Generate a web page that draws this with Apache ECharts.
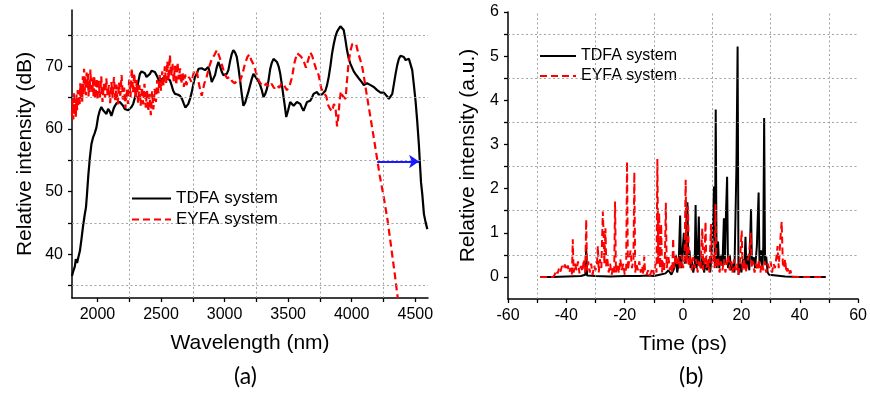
<!DOCTYPE html>
<html>
<head>
<meta charset="utf-8">
<script src="https://cdn.jsdelivr.net/npm/echarts@6/dist/echarts.min.js"></script>
<style>html,body{margin:0;padding:0;background:#fff;}#c{width:870px;height:396px;}</style>
</head>
<body>
<div id="c"></div>
<script>
const wlLabels = [2000, 2500, 3000, 3500, 4000, 4500];
const wlTicks = [2000, 2250, 2500, 2750, 3000, 3250, 3500, 3750, 4000, 4250, 4500];
const wlGrid = [2250, 2750, 3250, 3750, 4250];
const dbLabels = [40, 50, 60, 70];
const dbTicks = [35, 40, 45, 50, 55, 60, 65, 70, 75];
const dbGrid = [35, 45, 55, 65, 75];

const tdfaSpectrum = [
[1800,36.5],[1810,37.3],[1822,38.0],[1830,39.2],[1840,38.6],[1850,39.5],[1862,40.5],[1875,42.5],[1887,44.5],[1900,46.3],
[1910,47.5],[1918,49.6],[1928,52.5],[1940,55.3],[1953,57.6],[1965,58.6],[1978,59.3],[1992,60.2],[2005,61.9],[2018,62.9],
[2031,63.5],[2045,63.0],[2058,62.9],[2071,62.4],[2084,63.2],[2097,62.8],[2110,62.1],[2130,63.4],[2150,64.1],[2163,63.8],
[2176,64.3],[2190,64.0],[2202,63.7],[2215,63.2],[2229,63.5],[2242,63.0],[2255,62.9],[2268,63.5],[2281,64.0],[2295,65.0],
[2308,66.1],[2321,67.5],[2334,68.8],[2347,69.2],[2360,69.4],[2373,68.9],[2386,68.3],[2400,68.5],[2413,68.8],[2426,69.3],
[2439,69.6],[2452,69.1],[2465,68.6],[2478,68.0],[2491,67.5],[2505,67.9],[2518,68.2],[2531,68.3],[2550,68.0],[2570,67.8],
[2583,67.0],[2596,66.1],[2610,65.6],[2630,65.5],[2649,65.3],[2665,64.8],[2680,64.0],[2692,63.4],[2702,63.2],[2715,64.0],
[2728,64.8],[2741,65.8],[2755,67.2],[2767,68.3],[2781,68.8],[2795,69.6],[2807,69.9],[2820,69.7],[2833,69.5],[2846,69.4],
[2859,69.6],[2872,69.9],[2885,68.9],[2899,67.5],[2912,67.8],[2925,68.6],[2938,69.8],[2951,70.7],[2965,70.0],[2978,69.1],
[2991,68.6],[3004,68.3],[3017,68.8],[3030,69.4],[3043,70.8],[3057,72.0],[3069,72.6],[3083,72.2],[3096,71.5],[3109,69.8],
[3122,67.8],[3135,65.6],[3148,63.7],[3162,64.2],[3175,65.1],[3188,66.0],[3201,67.0],[3214,68.0],[3227,68.8],[3240,68.6],
[3254,68.0],[3267,67.6],[3280,67.0],[3293,66.2],[3306,65.1],[3320,65.6],[3333,66.4],[3346,67.8],[3359,69.6],[3372,70.6],
[3385,71.2],[3398,71.1],[3412,70.7],[3425,70.0],[3438,68.8],[3451,67.0],[3464,65.1],[3475,63.5],[3485,61.9],[3500,63.0],
[3516,64.3],[3530,64.0],[3543,63.7],[3556,64.0],[3569,64.3],[3582,64.2],[3595,64.0],[3608,63.4],[3621,62.9],[3635,63.6],
[3648,64.3],[3661,64.2],[3674,64.5],[3687,65.0],[3700,65.6],[3714,65.7],[3727,65.9],[3740,65.5],[3753,65.2],[3766,65.5],
[3780,65.8],[3793,66.1],[3806,67.0],[3819,68.3],[3832,70.0],[3845,72.0],[3858,73.5],[3871,74.7],[3884,75.5],[3898,76.0],
[3911,76.4],[3924,76.6],[3937,75.8],[3950,74.3],[3963,72.6],[3976,71.3],[3990,70.4],[4003,69.8],[4016,69.2],[4029,68.8],
[4042,68.5],[4055,68.1],[4069,67.8],[4082,67.4],[4095,67.0],[4108,67.1],[4121,67.3],[4134,67.2],[4148,67.0],[4161,67.0],
[4174,66.7],[4187,66.4],[4200,66.2],[4213,66.1],[4227,65.8],[4240,65.6],[4253,65.8],[4266,65.6],[4279,65.2],[4292,64.8],
[4305,65.0],[4319,65.6],[4332,67.2],[4345,68.8],[4358,70.2],[4371,71.2],[4384,71.7],[4397,71.9],[4410,71.5],[4424,71.0],
[4437,71.0],[4450,71.2],[4463,71.0],[4476,69.4],[4489,67.0],[4502,64.5],[4515,61.3],[4528,57.6],[4535,55.0],[4545,51.5],
[4555,49.6],[4568,46.4],[4582,45.0],[4595,44.0]
];

const eyfaSpectrum = [
[1800,62.0],[1805,64.6],[1810,61.5],[1815,65.8],[1820,62.3],[1825,64.0],[1830,61.8],[1835,65.5],[1840,63.0],[1845,66.2],
[1850,63.6],[1855,65.1],[1860,64.0],[1865,67.3],[1870,64.8],[1875,66.6],[1880,64.2],[1885,68.4],[1890,65.5],[1895,69.6],
[1900,66.0],[1905,68.3],[1910,65.4],[1915,69.0],[1920,66.5],[1925,68.8],[1930,65.2],[1935,67.6],[1940,65.9],[1945,69.5],
[1950,66.4],[1955,68.2],[1960,65.6],[1965,67.9],[1970,65.0],[1975,68.5],[1980,64.8],[1985,67.4],[1990,65.6],[1995,68.1],
[2000,64.6],[2010,67.7],[2020,65.0],[2030,68.4],[2040,64.3],[2050,67.2],[2060,65.0],[2070,68.1],[2080,65.4],[2090,67.0],
[2100,64.1],[2110,67.5],[2120,64.9],[2130,68.3],[2140,64.5],[2150,67.1],[2160,63.9],[2170,67.4],[2180,65.3],[2190,68.6],
[2200,64.7],[2210,66.6],[2220,63.3],[2230,66.3],[2240,64.0],[2250,67.9],[2260,65.1],[2270,69.7],[2280,65.8],[2290,68.9],
[2300,65.0],[2310,67.8],[2320,64.2],[2330,67.0],[2340,63.7],[2350,66.7],[2360,63.9],[2370,67.2],[2380,63.4],[2390,66.1],
[2400,62.8],[2410,65.6],[2420,62.2],[2430,66.0],[2440,63.1],[2450,66.4],[2460,64.3],[2470,67.8],[2480,65.7],[2490,68.6],
[2500,66.1],[2510,69.2],[2520,66.9],[2530,70.0],[2540,67.3],[2550,70.8],[2560,67.8],[2570,71.8],[2580,68.4],[2590,70.4],
[2600,67.6],[2610,70.1],[2620,67.0],[2630,70.6],[2640,67.9],[2650,69.7],[2660,67.2],[2670,69.0],[2680,66.7],[2690,68.7],
[2700,67.0],[2720,68.3],[2740,67.5],[2760,69.2],[2780,69.4],[2800,67.0],[2820,65.3],[2840,67.2],[2860,68.4],[2880,70.0],
[2900,71.2],[2920,71.8],[2940,72.6],[2960,71.5],[2980,70.2],[3000,68.8],[3020,68.1],[3040,68.3],[3060,67.6],[3080,67.3],
[3100,67.8],[3120,67.6],[3140,68.7],[3160,70.4],[3180,71.5],[3195,71.9],[3210,71.0],[3230,70.2],[3250,68.9],[3270,67.7],
[3290,67.1],[3310,66.8],[3330,67.3],[3350,66.7],[3370,67.2],[3390,66.5],[3410,67.0],[3430,66.6],[3450,67.3],[3470,66.9],
[3490,66.2],[3510,66.8],[3530,68.2],[3550,70.6],[3570,72.1],[3585,72.4],[3600,71.6],[3620,71.0],[3640,69.8],[3660,71.2],
[3675,72.2],[3690,71.6],[3705,70.5],[3720,69.6],[3740,68.6],[3760,66.5],[3780,65.8],[3800,65.2],[3815,63.8],[3830,63.2],
[3845,62.8],[3860,64.0],[3872,63.5],[3885,60.4],[3895,62.0],[3905,64.5],[3915,66.0],[3928,65.3],[3940,65.6],[3952,64.8],
[3962,67.5],[3975,70.5],[3990,72.5],[4005,73.6],[4020,73.3],[4035,73.5],[4050,72.2],[4065,71.2],[4080,70.2],[4095,68.5],
[4110,66.5],[4130,64.0],[4160,60.3],[4190,56.5],[4220,52.6],[4250,49.3],[4280,45.7],[4310,41.2],[4340,36.6],[4362,33.0]
];

const arrowStart = [4200, 54.8];
const arrowEnd = [4530, 54.8];

const timeLabels = [-60, -40, -20, 0, 20, 40, 60];
const timeTicks = [-60, -50, -40, -30, -20, -10, 0, 10, 20, 30, 40, 50, 60];
const timeGrid = [-50, -30, -10, 10, 30, 50];
const auLabels = [0, 1, 2, 3, 4, 5, 6];
const auTicks = [0, 0.5, 1, 1.5, 2, 2.5, 3, 3.5, 4, 4.5, 5, 5.5, 6];
const auGrid = [0.5, 1.5, 2.5, 3.5, 4.5, 5.5];

const tdfaPulse = [
[-49,0],[-45,0],[-40,0.01],[-35,0.02],[-33.5,0.05],[-33.2,0.66],[-32.9,0.03],[-30,0.02],[-25,0.01],[-20,0.02],
[-15,0.02],[-12,0.03],[-10,0.02],[-8,0.05],[-6,0.08],[-5,0.15],[-4,0.05],[-3,0.2],[-2.5,0.5],[-2,0.1],
[-1.5,0.3],[-1.0,1.39],[-0.7,0.2],[-0.3,0.5],[0.3,1.0],[0.6,0.3],[1,0.8],[1.5,1.69],[1.8,0.4],[2.2,0.6],
[2.6,0.2],[3,0.35],[3.5,0.1],[4,0.3],[4.3,1.63],[4.6,0.2],[5.0,0.4],[5.4,1.37],[5.7,0.3],[6.2,0.2],
[6.7,0.5],[7.2,0.1],[7.7,0.3],[8.3,0.15],[8.8,0.4],[9.3,0.1],[9.8,0.5],[10.3,1.25],[10.6,2.05],[10.9,0.3],
[11.2,3.79],[11.5,0.2],[12.0,0.8],[12.4,0.2],[13,0.5],[13.5,0.25],[14,1.33],[14.3,0.3],[14.7,1.4],[15.1,2.27],
[15.4,0.2],[16,0.5],[16.5,0.15],[17,0.3],[17.6,0.1],[18.3,2.5],[18.7,5.22],[19.0,0.05],[19.5,0.3],[20,0.1],
[20.5,0.4],[21,0.2],[21.4,0.91],[21.7,0.2],[22.2,0.5],[22.7,0.15],[23.3,1.53],[23.6,0.3],[24.2,0.45],[24.7,0.2],
[25.3,0.7],[25.9,1.91],[26.2,0.3],[26.7,0.6],[27.2,0.2],[27.5,0.7],[27.8,3.6],[28.1,0.3],[28.5,0.46],[29,0.1],
[29.5,0.05],[30,0.02],[35,0.01],[40,0],[49,0]
];

const eyfaPulse = [
[-49,0],[-44.5,0],[-44,0.05],[-43.5,0.15],[-43,0.08],[-42.5,0.2],[-42,0.12],[-41.5,0.25],[-41,0.18],[-40.5,0.28],
[-40,0.15],[-39.5,0.26],[-39,0.1],[-38.5,0.2],[-38.1,0.05],[-37.8,0.85],[-37.5,0.1],[-37,0.3],[-36.5,0.15],[-36,0.35],
[-35.5,0.08],[-35,0.25],[-34.5,0.12],[-34,0.4],[-33.5,0.1],[-33.2,1.3],[-32.9,0.15],[-32.5,0.35],[-32,0.1],[-31.5,0.3],
[-31,0.05],[-30.5,0.25],[-30,0.15],[-29.5,0.3],[-29.2,0.7],[-28.9,0.1],[-28.5,0.4],[-28,0.2],[-27.5,1.48],[-27.2,0.9],
[-27,0.3],[-26.6,1.1],[-26.3,0.2],[-26,0.45],[-25.5,0.1],[-25,0.3],[-24.5,0.05],[-24,0.2],[-23.6,0.1],[-23.3,1.71],
[-23,0.1],[-22.5,0.3],[-22,0.08],[-21.5,0.4],[-21,0.15],[-20.5,0.3],[-20,0.05],[-19.5,0.2],[-19.2,2.61],[-18.9,0.15],
[-18.5,0.35],[-18,0.6],[-17.5,0.2],[-17,0.4],[-16.7,2.37],[-16.4,0.1],[-16,0.3],[-15.5,0.15],[-15,0.35],[-14.5,0.1],
[-14,0.25],[-13.6,0.05],[-13.3,0.46],[-13,0.1],[-12.5,0.05],[-12,0.15],[-11.5,0.02],[-11,0.1],[-10.5,0.2],[-10,0.05],
[-9.5,0.3],[-9.1,0.1],[-8.8,2.67],[-8.5,0.3],[-8.2,1.45],[-7.9,0.2],[-7.5,1.2],[-7.2,0.1],[-7,0.35],[-6.5,0.15],
[-6.2,0.5],[-5.9,1.68],[-5.6,0.2],[-5,0.45],[-4.5,0.15],[-4,0.3],[-3.7,0.1],[-3.4,0.88],[-3.1,0.2],[-2.5,0.5],
[-2,0.25],[-1.5,0.45],[-1,0.15],[-0.5,0.5],[0,0.2],[0.5,0.4],[0.9,2.2],[1.2,0.3],[1.7,1.6],[2,0.25],
[2.5,0.5],[3,0.15],[3.5,0.45],[4,0.2],[4.5,0.4],[5,0.1],[5.5,0.35],[6,0.2],[6.6,1.1],[6.9,0.15],
[7.3,0.3],[7.7,1.25],[8,0.2],[8.5,0.4],[9,0.1],[9.6,1.2],[9.9,0.3],[10.4,0.5],[10.8,0.2],[11.1,1.65],
[11.4,0.2],[12,0.45],[12.5,0.1],[13,0.35],[13.5,0.15],[14,0.4],[14.5,0.1],[15,0.3],[15.5,0.5],[16,0.15],
[16.5,0.35],[17,0.1],[17.5,0.4],[18,0.15],[18.5,0.3],[19,0.05],[19.5,0.35],[20.1,1.05],[20.4,0.15],[21,0.4],
[21.5,0.1],[22,0.3],[22.6,0.5],[23.2,1.0],[23.5,0.2],[24,0.35],[24.5,0.1],[25,0.3],[25.5,0.15],[26,0.4],
[26.5,0.1],[27,0.3],[27.5,0.15],[28,0.35],[28.5,0.1],[29,0.3],[29.5,0.2],[30,0.35],[30.5,0.1],[31,0.3],
[31.5,0.2],[32,0.45],[32.4,0.7],[32.8,0.2],[33.4,0.9],[33.8,1.25],[34.2,0.3],[34.6,0.2],[35,0.4],[35.4,0.1],
[35.8,0.2],[36.3,0.05],[36.8,0.15],[37.3,0],[49,0]
];

const FONT = "'Liberation Sans', Arial, Helvetica, sans-serif";
const chart = echarts.init(document.getElementById('c'), null, {renderer: 'canvas'});

function axisCommon(labels, ticks) {
  return {
    axisLine: {show: true, onZero: false, lineStyle: {color: '#000', width: 1.5}},
    axisTick: {show: true, inside: false, length: 4, customValues: ticks, lineStyle: {color: '#000', width: 1.3}},
    axisLabel: {customValues: labels, color: '#000', fontSize: 16, fontFamily: FONT, margin: 9,
      formatter: function (v) { return String(v); }},
    splitLine: {show: false},
    minorSplitLine: {show: false},
    splitArea: {show: false},
    nameTextStyle: {color: '#000', fontSize: 21, fontFamily: FONT}
  };
}
function gridLines(xs, ys) {
  return [].concat(xs.map(v => ({xAxis: v})), ys.map(v => ({yAxis: v})));
}
const gridLineStyle = {color: '#9a9a9a', width: 1, type: [2, 2.5], opacity: 0.9};

const option = {
  backgroundColor: '#fff',
  animation: false,
  grid: [
    {left: 72, right: 442, top: 10, bottom: 98},
    {left: 508, right: 10, top: 12, bottom: 97}
  ],
  xAxis: [
    Object.assign(axisCommon(wlLabels, wlTicks), {type: 'value', gridIndex: 0, min: 1800, max: 4600,
      name: 'Wavelength (nm)', nameLocation: 'middle', nameGap: 35}),
    Object.assign(axisCommon(timeLabels, timeTicks), {type: 'value', gridIndex: 1, min: -60, max: 60,
      name: 'Time (ps)', nameLocation: 'middle', nameGap: 35})
  ],
  yAxis: [
    Object.assign(axisCommon(dbLabels, dbTicks), {type: 'value', gridIndex: 0, min: 33, max: 79,
      name: 'Relative intensity (dB)', nameLocation: 'middle', nameGap: 36}),
    Object.assign(axisCommon(auLabels, auTicks), {type: 'value', gridIndex: 1, min: -0.5, max: 6,
      name: 'Relative intensity (a.u.)', nameLocation: 'middle', nameGap: 29})
  ],
  legend: [
    {left: 131, top: 190, orient: 'vertical', padding: 0, itemGap: 4, itemWidth: 39, itemHeight: 12,
     selectedMode: false, data: ['TDFA system', 'EYFA system'], itemStyle: {opacity: 0},
     textStyle: {color: '#000', fontSize: 17, fontFamily: FONT}},
    {left: 539, top: 48, orient: 'vertical', padding: 0, itemGap: 4, itemWidth: 36, itemHeight: 12,
     backgroundColor: '#fff', selectedMode: false, data: ['TDFA system', 'EYFA system'], itemStyle: {opacity: 0},
     textStyle: {color: '#000', fontSize: 16, fontFamily: FONT}}
  ],
  graphic: [
    {type: 'text', left: 234, top: 365, style: {text: '(a)', fontSize: 23, fontFamily: "Lato, 'Open Sans', sans-serif", fill: '#000'}},
    {type: 'text', left: 679, top: 365, style: {text: '(b)', fontSize: 23, fontFamily: "Lato, 'Open Sans', sans-serif", fill: '#000'}}
  ],
  series: [
    {type: 'line', xAxisIndex: 0, yAxisIndex: 0, data: [], z: 1, silent: true,
     markLine: {silent: true, symbol: 'none', label: {show: false}, lineStyle: gridLineStyle, data: gridLines(wlGrid, dbGrid)}},
    {type: 'line', xAxisIndex: 1, yAxisIndex: 1, data: [], z: 1, silent: true,
     markLine: {silent: true, symbol: 'none', label: {show: false}, lineStyle: gridLineStyle, data: gridLines(timeGrid, auGrid)}},
    {name: 'TDFA system', type: 'line', xAxisIndex: 0, yAxisIndex: 0, data: tdfaSpectrum, z: 2,
     symbol: 'none', showSymbol: false, color: '#000', lineStyle: {color: '#000', width: 2.2}},
    {name: 'EYFA system', type: 'line', xAxisIndex: 0, yAxisIndex: 0, data: eyfaSpectrum, z: 3,
     symbol: 'none', showSymbol: false, color: '#ff0000', lineStyle: {color: '#ff0000', width: 2.2, type: [7, 4]},
     markLine: {silent: true, symbol: ['none', 'arrow'], symbolSize: [10, 10], label: {show: false},
       lineStyle: {color: '#1a1aff', width: 2, type: 'solid'},
       data: [[{coord: arrowStart}, {coord: arrowEnd}]]}},
    {name: 'TDFA system', type: 'line', xAxisIndex: 1, yAxisIndex: 1, data: tdfaPulse, z: 2,
     symbol: 'none', showSymbol: false, color: '#000', lineStyle: {color: '#000', width: 2}},
    {name: 'EYFA system', type: 'line', xAxisIndex: 1, yAxisIndex: 1, data: eyfaPulse, z: 3,
     symbol: 'none', showSymbol: false, color: '#ff0000', lineStyle: {color: '#ff0000', width: 2, type: [7, 4]}}
  ]
};
chart.setOption(option);
</script>
</body>
</html>
